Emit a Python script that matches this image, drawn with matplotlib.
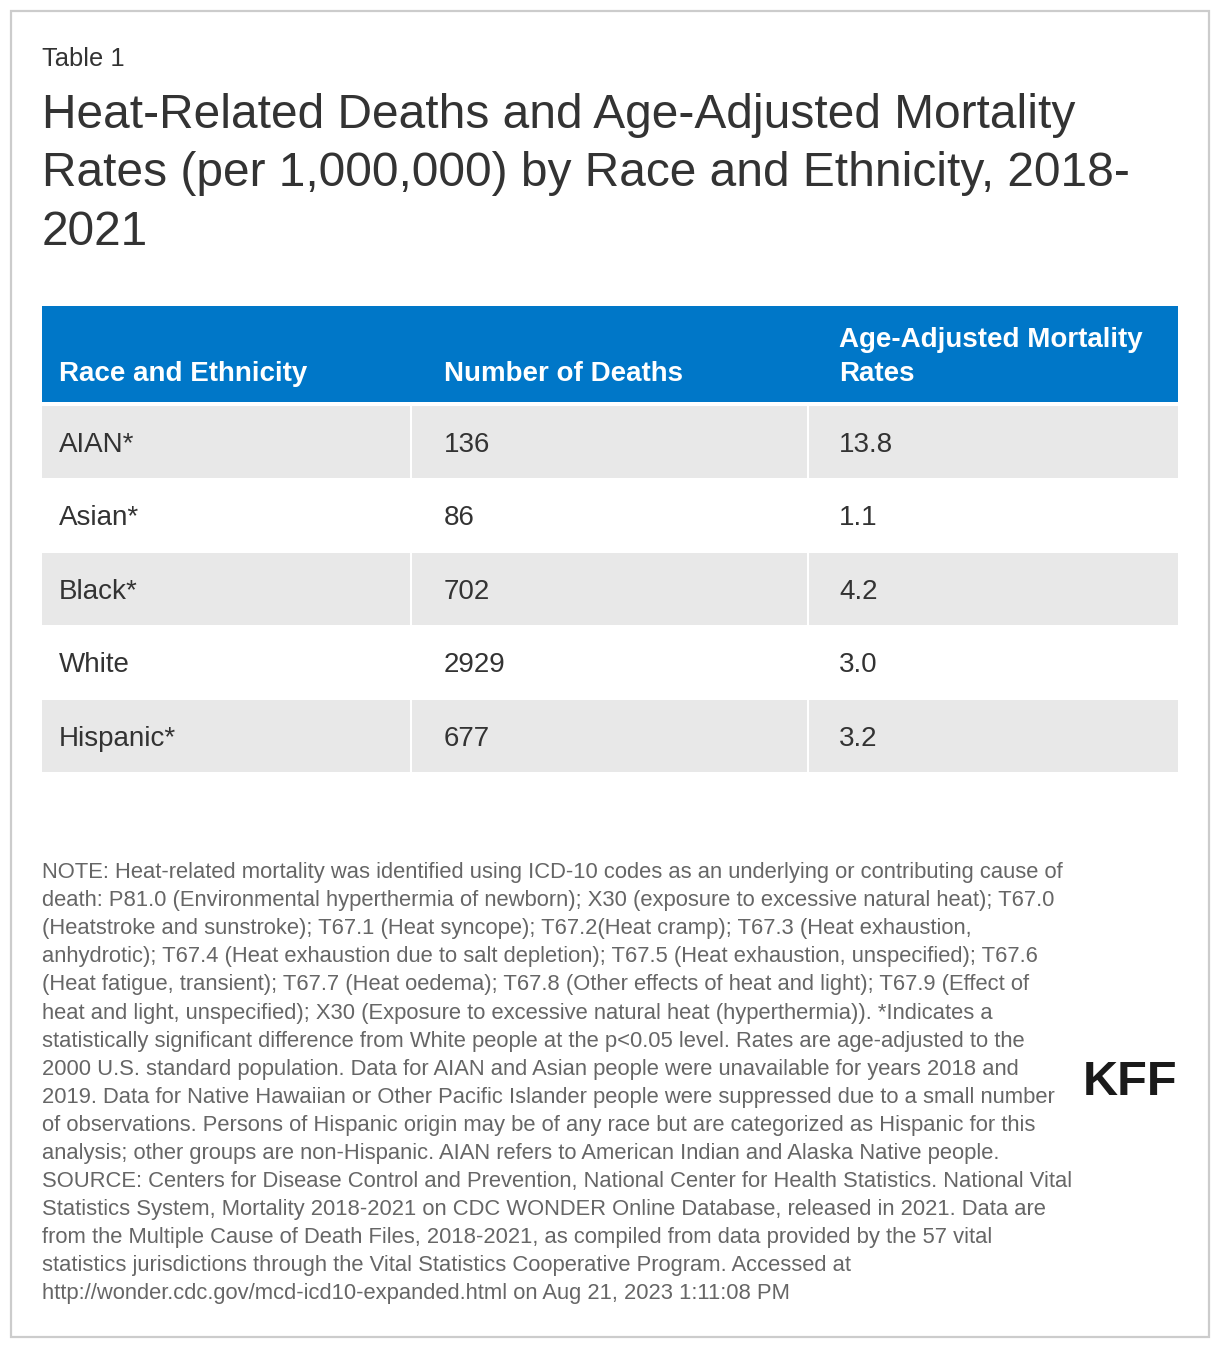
import matplotlib.pyplot as plt
from matplotlib.patches import Rectangle

# table data
races = ["AIAN*", "Asian*", "Black*", "White", "Hispanic*"]
deaths = [136, 86, 702, 2929, 677]
rates = [13.8, 1.1, 4.2, 3.0, 3.2]
col_headers = [["Race and Ethnicity"], ["Number of Deaths"], ["Age-Adjusted Mortality", "Rates"]]

title_lines = ["Heat-Related Deaths and Age-Adjusted Mortality",
               "Rates (per 1,000,000) by Race and Ethnicity, 2018-",
               "2021"]

note_lines = [
    "NOTE: Heat-related mortality was identified using ICD-10 codes as an underlying or contributing cause of",
    "death: P81.0 (Environmental hyperthermia of newborn); X30 (exposure to excessive natural heat); T67.0",
    "(Heatstroke and sunstroke); T67.1 (Heat syncope); T67.2(Heat cramp); T67.3 (Heat exhaustion,",
    "anhydrotic); T67.4 (Heat exhaustion due to salt depletion); T67.5 (Heat exhaustion, unspecified); T67.6",
    "(Heat fatigue, transient); T67.7 (Heat oedema); T67.8 (Other effects of heat and light); T67.9 (Effect of",
    "heat and light, unspecified); X30 (Exposure to excessive natural heat (hyperthermia)). *Indicates a",
    "statistically significant difference from White people at the p<0.05 level. Rates are age-adjusted to the",
    "2000 U.S. standard population. Data for AIAN and Asian people were unavailable for years 2018 and",
    "2019. Data for Native Hawaiian or Other Pacific Islander people were suppressed due to a small number",
    "of observations. Persons of Hispanic origin may be of any race but are categorized as Hispanic for this",
    "analysis; other groups are non-Hispanic. AIAN refers to American Indian and Alaska Native people.",
    "SOURCE: Centers for Disease Control and Prevention, National Center for Health Statistics. National Vital",
    "Statistics System, Mortality 2018-2021 on CDC WONDER Online Database, released in 2021. Data are",
    "from the Multiple Cause of Death Files, 2018-2021, as compiled from data provided by the 57 vital",
    "statistics jurisdictions through the Vital Statistics Cooperative Program. Accessed at",
    "http://wonder.cdc.gov/mcd-icd10-expanded.html on Aug 21, 2023 1:11:08 PM",
]

plt.rcParams['font.family'] = ['Liberation Sans', 'DejaVu Sans']

W, H = 1220, 1348
fig = plt.figure(figsize=(W / 100, H / 100), dpi=100)
ax = fig.add_axes([0, 0, 1, 1])
ax.set_xlim(0, W)
ax.set_ylim(H, 0)
ax.axis('off')

dark = '#333333'
grey = '#666666'
blue = '#0077c8'
shade = '#e8e8e8'

# outer frame
ax.add_patch(Rectangle((11, 11), 1198, 1326, fill=False, edgecolor='#cccccc', lw=1.6))

ax.text(42, 66, "Table 1", fontsize=18.4, color=dark, va='baseline')
for i, line in enumerate(title_lines):
    ax.text(42, 128 + i * 58.5, line, fontsize=34.5, color=dark, va='baseline')

# column geometry
col_left = [42, 412, 809]
col_right = [410, 807, 1178]
text_x = [59, 444, 839]

# header
ax.add_patch(Rectangle((42, 306), 1178 - 42, 96, facecolor=blue, edgecolor='none'))
for j, lines in enumerate(col_headers):
    n = len(lines)
    for k, h in enumerate(lines):
        ax.text(text_x[j], 381 - 34 * (n - 1 - k), h, fontsize=20, fontweight='bold',
                color='white', va='baseline')

# body rows
row_top, pitch, row_h = 406, 73.5, 71.5
for i, (r, d, m) in enumerate(zip(races, deaths, rates)):
    y0 = row_top + i * pitch
    if i % 2 == 0:
        for j in range(3):
            ax.add_patch(Rectangle((col_left[j], y0), col_right[j] - col_left[j], row_h,
                                   facecolor=shade, edgecolor='none'))
    yb = y0 + row_h / 2 + 10
    vals = [r, str(d), f"{m:.1f}"]
    for j, v in enumerate(vals):
        ax.text(text_x[j], yb, v, fontsize=20, color=dark, va='baseline')

# notes
for i, line in enumerate(note_lines):
    ax.text(42, 878 + i * 28.1, line, fontsize=15.8, color=grey, va='baseline')

ax.text(1083, 1095, "KFF", fontsize=35, fontweight='bold', color='#1a1a1a', va='baseline')

fig.savefig("out.png", dpi=100)
